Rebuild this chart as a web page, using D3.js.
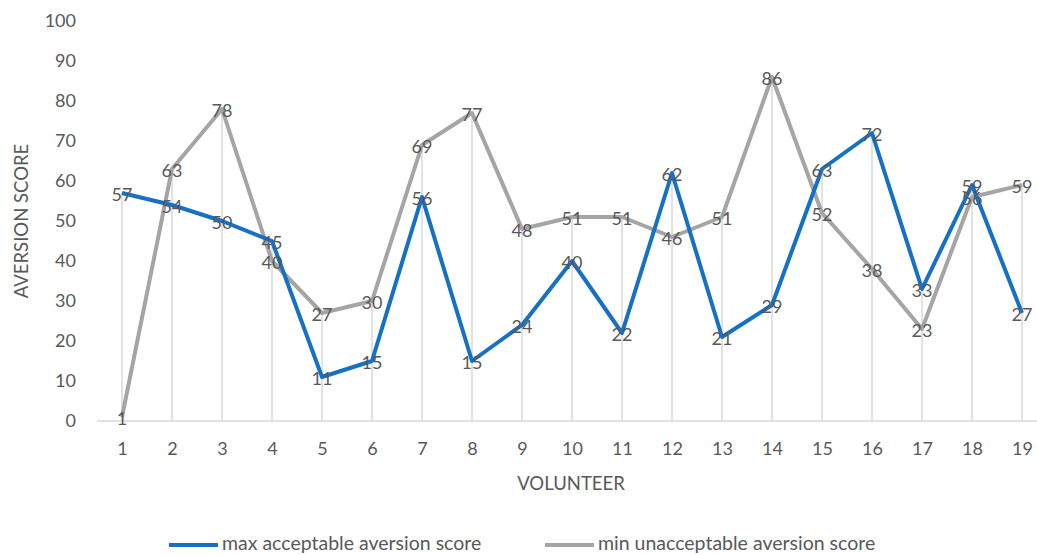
<!DOCTYPE html>
<html>
<head>
<meta charset="utf-8">
<script src="https://cdn.jsdelivr.net/npm/d3@7"></script>
<style>
  html, body { margin: 0; padding: 0; background: #fff; }
  svg { display: block; font-family: Lato, "Open Sans", sans-serif; }
</style>
</head>
<body>
<svg id="chart" width="1037" height="555"></svg>
<script>
// Volunteer aversion scores
const volunteers = d3.range(1, 20).map(String);
const maxAcceptable = [57, 54, 50, 45, 11, 15, 56, 15, 24, 40, 22, 62, 21, 29, 63, 72, 33, 59, 27];
const minUnacceptable = [1, 63, 78, 40, 27, 30, 69, 77, 48, 51, 51, 46, 51, 86, 52, 38, 23, 56, 59];
const yTicks = [0, 10, 20, 30, 40, 50, 60, 70, 80, 90, 100];
const seriesNames = ["max acceptable aversion score", "min unacceptable aversion score"];
const seriesColors = ["#1570C6", "#A5A5A5"];

const svg = d3.select("#chart");
const margin = { left: 97, top: 21, bottom: 134 };
const W = 1037, H = 555;

const x = d3.scalePoint()
  .domain(volunteers)
  .range([margin.left + 25, margin.left + 25 + 18 * 50]);
const y = d3.scaleLinear().domain([0, 100]).range([H - margin.bottom, margin.top]);

const textColor = "#595959";
const fontSize = 18;

// Drop lines from each category to its highest value
svg.append("g")
  .selectAll("line")
  .data(volunteers)
  .join("line")
  .attr("x1", d => x(d)).attr("x2", d => x(d))
  .attr("y1", y(0))
  .attr("y2", (d, i) => y(Math.max(maxAcceptable[i], minUnacceptable[i])))
  .attr("stroke", "#D9D9D9")
  .attr("stroke-width", 1.5);

// X axis
const xAxis = svg.append("g")
  .attr("transform", `translate(0,${y(0)})`)
  .call(d3.axisBottom(x).tickSize(0).tickPadding(21));
xAxis.select(".domain").remove();
xAxis.append("line")
  .attr("x1", margin.left).attr("x2", W)
  .attr("stroke", "#D9D9D9").attr("stroke-width", 1.5);
xAxis.selectAll("text")
  .attr("fill", textColor).attr("font-size", fontSize).attr("font-family", "Lato, sans-serif");

// Y axis
const yAxis = svg.append("g")
  .attr("transform", `translate(76,0)`)
  .call(d3.axisLeft(y).tickValues(yTicks).tickSize(0).tickPadding(0));
yAxis.select(".domain").remove();
yAxis.selectAll("text")
  .attr("fill", textColor).attr("font-size", fontSize).attr("font-family", "Lato, sans-serif");

// Axis titles
svg.append("text")
  .attr("x", 571).attr("y", 484)
  .attr("dy", "0.35em")
  .attr("text-anchor", "middle")
  .attr("fill", textColor).attr("font-size", 18.5)
  .text("VOLUNTEER");
svg.append("text")
  .attr("transform", `translate(22,${y(50)}) rotate(-90)`)
  .attr("dy", "0.35em")
  .attr("text-anchor", "middle")
  .attr("fill", textColor).attr("font-size", 18.5)
  .text("AVERSION SCORE");

// Series lines
const line = d3.line()
  .x((d, i) => x(volunteers[i]))
  .y(d => y(d));

const seriesData = [maxAcceptable, minUnacceptable];
// gray drawn under blue
[1, 0].forEach(s => {
  svg.append("path")
    .datum(seriesData[s])
    .attr("d", line)
    .attr("fill", "none")
    .attr("stroke", seriesColors[s])
    .attr("stroke-width", 4)
    .attr("stroke-linejoin", "round");
});

// Data labels centred on points
[0, 1].forEach(s => {
  svg.append("g")
    .selectAll("text")
    .data(seriesData[s])
    .join("text")
    .attr("x", (d, i) => x(volunteers[i]))
    .attr("y", d => y(d))
    .attr("dy", "0.42em")
    .attr("text-anchor", "middle")
    .attr("fill", textColor)
    .attr("font-size", fontSize)
    .text(d => d);
});

// Legend
const legend = svg.append("g").attr("transform", "translate(0,543)");
const legendX = [169, 545];
seriesNames.forEach((name, i) => {
  legend.append("line")
    .attr("x1", legendX[i]).attr("x2", legendX[i] + 49)
    .attr("y1", 2).attr("y2", 2)
    .attr("stroke", seriesColors[i]).attr("stroke-width", 4);
  legend.append("text")
    .attr("x", legendX[i] + 53).attr("y", 0)
    .attr("dy", "0.35em")
    .attr("fill", textColor).attr("font-size", 19.5)
    .text(name);
});
</script>
</body>
</html>
